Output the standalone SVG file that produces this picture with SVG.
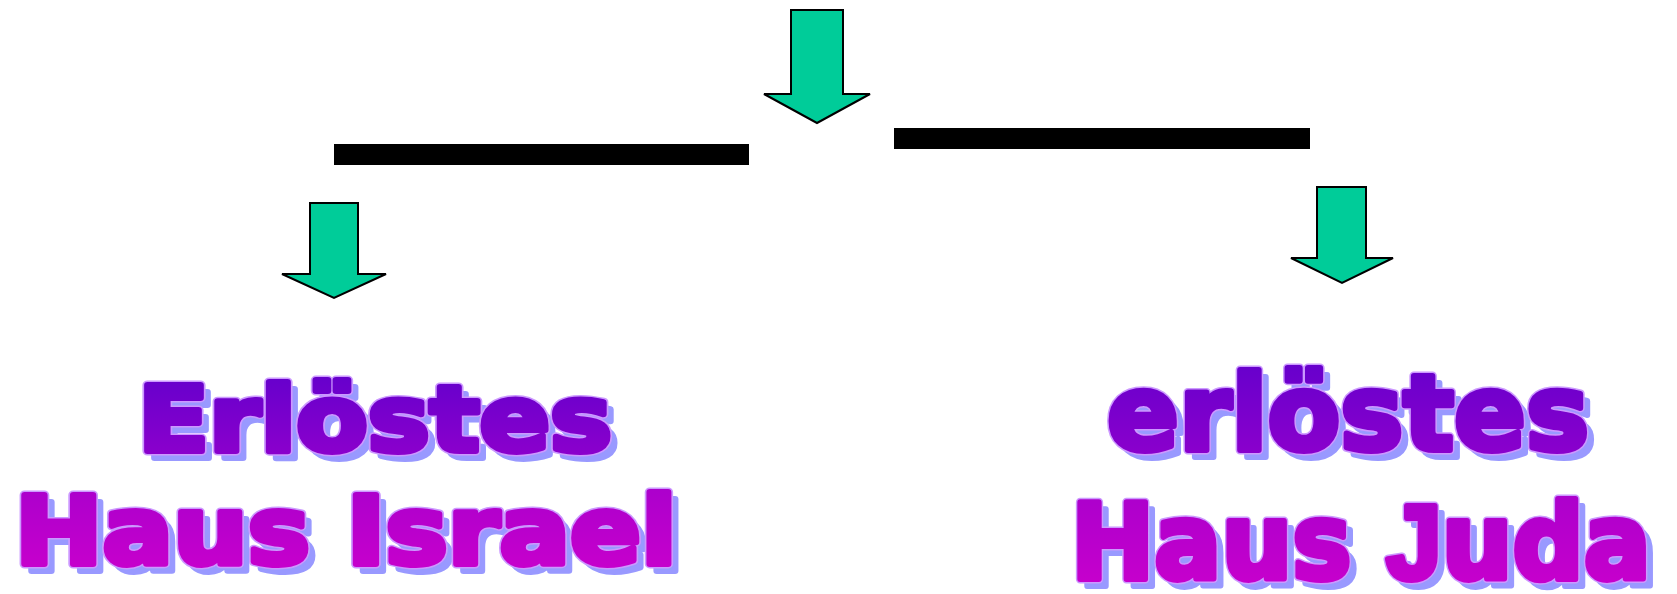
<svg xmlns="http://www.w3.org/2000/svg" xmlns:xlink="http://www.w3.org/1999/xlink" width="1677" height="594" viewBox="0 0 1677 594">
<style>
.arrow{fill:#00cc99;stroke:#000;stroke-width:2;stroke-linejoin:miter}
.bar{fill:#000}
.wa{font-family:"DejaVu Sans","Liberation Sans",sans-serif;font-weight:bold}
.j{font-family:"Liberation Sans","DejaVu Sans",sans-serif}
.shadow{fill:#9999ff;stroke:#9999ff;stroke-width:6;stroke-linejoin:round}
.outline{fill:none;stroke:#cc99ff;stroke-width:9;stroke-linejoin:round}
.top1{fill:url(#g1);stroke:url(#g1);stroke-width:6;stroke-linejoin:round}
.top2{fill:url(#g2);stroke:url(#g2);stroke-width:6;stroke-linejoin:round}
</style>
<defs>
<linearGradient id="g1" x1="0" y1="0" x2="0" y2="1">
<stop offset="0" stop-color="#6200cc"/>
<stop offset="1" stop-color="#9300cc"/>
</linearGradient>
<linearGradient id="g2" x1="0" y1="0" x2="0" y2="1">
<stop offset="0" stop-color="#a800cc"/>
<stop offset="1" stop-color="#cc00cc"/>
</linearGradient>
<text id="tL1" class="wa" x="138" y="451" font-size="91" textLength="474" lengthAdjust="spacingAndGlyphs">Erlöstes</text>
<text id="tL2" class="wa" x="15" y="564" font-size="94" textLength="662" lengthAdjust="spacingAndGlyphs">Haus Israel</text>
<text id="tR1" class="wa" x="1107" y="450" font-size="106" textLength="482" lengthAdjust="spacingAndGlyphs">erlöstes</text>
<text id="tR2" class="wa" x="1071" y="579" font-size="105" textLength="580" lengthAdjust="spacingAndGlyphs">Haus <tspan class="j">J</tspan>uda</text>
</defs>
<g id="connectors">
<rect class="bar" x="334" y="144" width="415" height="21"/>
<rect class="bar" x="894" y="128" width="416" height="21"/>
</g>
<g id="arrow-top"><polygon class="arrow" points="791,10 843,10 843,94 870,94 817,123 764,94 791,94"/></g>
<g id="arrow-left"><polygon class="arrow" points="310,203 358,203 358,274 386,274 334,298 282,274 310,274"/></g>
<g id="arrow-right"><polygon class="arrow" points="1317,187 1366,187 1366,258 1393,258 1342,283 1291,258 1317,258"/></g>
<g id="label-erloestes-left">
<use xlink:href="#tL1" href="#tL1" class="shadow" transform="translate(7,7)"/>
<use xlink:href="#tL1" href="#tL1" class="outline"/>
<use xlink:href="#tL1" href="#tL1" class="top1"/>
</g>
<g id="label-haus-israel">
<use xlink:href="#tL2" href="#tL2" class="shadow" transform="translate(7,7)"/>
<use xlink:href="#tL2" href="#tL2" class="outline"/>
<use xlink:href="#tL2" href="#tL2" class="top2"/>
</g>
<g id="label-erloestes-right">
<use xlink:href="#tR1" href="#tR1" class="shadow" transform="translate(7,7)"/>
<use xlink:href="#tR1" href="#tR1" class="outline"/>
<use xlink:href="#tR1" href="#tR1" class="top1"/>
</g>
<g id="label-haus-juda">
<use xlink:href="#tR2" href="#tR2" class="shadow" transform="translate(7,7)"/>
<use xlink:href="#tR2" href="#tR2" class="outline"/>
<use xlink:href="#tR2" href="#tR2" class="top2"/>
</g>
</svg>
